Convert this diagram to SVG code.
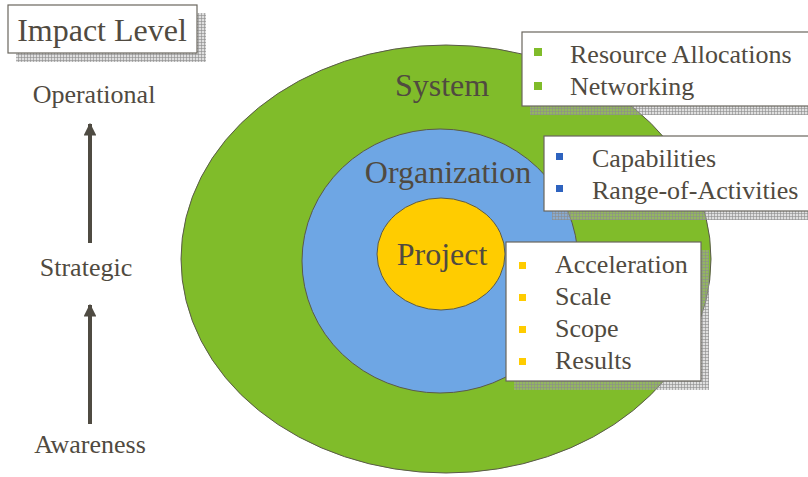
<svg xmlns="http://www.w3.org/2000/svg" width="808" height="477" viewBox="0 0 808 477">
<defs>
<pattern id="grid" width="3" height="3" patternUnits="userSpaceOnUse">
<rect width="3" height="3" fill="#b0b0b0" fill-opacity="0.4"/>
<path d="M0 0.5H3M0.5 0V3" stroke="#8c8c8c" stroke-width="1" stroke-opacity="0.6"/>
</pattern>
<marker id="arr" viewBox="0 0 10 10" refX="9" refY="5" markerWidth="3.2" markerHeight="3.2" orient="auto" markerUnits="strokeWidth">
<path d="M0 0L10 5L0 10Z" fill="#4f4b42"/>
</marker>
</defs>
<style>
.box{fill:#fff;stroke:#6a665e;stroke-width:1.2}
.shadow{fill:url(#grid)}
.ell{stroke:#5a5a4a;stroke-width:1}
</style>
<g id="circles">
<ellipse class="ell" cx="446" cy="259" rx="265" ry="214" fill="#80bc2a"/>
<ellipse class="ell" cx="440" cy="261" rx="138" ry="132" fill="#6ea6e4"/>
<ellipse class="ell" cx="441" cy="254" rx="64" ry="56" fill="#ffcc00"/>
</g>
<g id="circle-labels" font-family="Times New Roman" font-size="32" text-anchor="middle" fill="#504a40">
<text x="442" y="96">System</text>
<text x="448" y="183">Organization</text>
<text x="442" y="265">Project</text>
</g>
<g id="impact-level">
<rect class="shadow" x="16" y="13" width="190" height="49"/>
<rect class="box" x="8" y="5" width="189" height="48"/>
<text font-family="Times New Roman" fill="#504a40" font-size="32" x="102" y="41" text-anchor="middle">Impact Level</text>
</g>
<g id="levels" font-family="Times New Roman" font-size="26" text-anchor="middle" fill="#504a40">
<text x="94" y="103">Operational</text>
<text x="86" y="276">Strategic</text>
<text x="90" y="453">Awareness</text>
</g>
<g id="connectors" stroke="#4f4b42" stroke-width="4" fill="none">
<line x1="90" y1="243" x2="90" y2="124" marker-end="url(#arr)"/>
<line x1="90" y1="424" x2="90" y2="305" marker-end="url(#arr)"/>
</g>
<g id="system-box" font-family="Times New Roman" font-size="26" fill="#504a40">
<rect class="shadow" x="530" y="40" width="278" height="75"/>
<rect class="box" x="522" y="32" width="290" height="74"/>
<rect x="534" y="48" width="8" height="8" fill="#80bc2a"/>
<rect x="534" y="82" width="8" height="8" fill="#80bc2a"/>
<text x="570" y="63">Resource Allocations</text>
<text x="570" y="95">Networking</text>
</g>
<g id="organization-box" font-family="Times New Roman" font-size="26" fill="#504a40">
<rect class="shadow" x="552" y="144" width="256" height="76"/>
<rect class="box" x="544" y="136" width="270" height="75"/>
<rect x="556" y="153" width="7" height="7" fill="#2e63bf"/>
<rect x="556" y="185" width="7" height="7" fill="#2e63bf"/>
<text x="592" y="167">Capabilities</text>
<text x="592" y="199">Range-of-Activities</text>
</g>
<g id="project-box" font-family="Times New Roman" font-size="26" fill="#504a40">
<rect class="shadow" x="514" y="250" width="195" height="140"/>
<rect class="box" x="506" y="242" width="195" height="139"/>
<rect x="519" y="262" width="7" height="7" fill="#ffcc00"/>
<rect x="519" y="294" width="7" height="7" fill="#ffcc00"/>
<rect x="519" y="326" width="7" height="7" fill="#ffcc00"/>
<rect x="519" y="358" width="7" height="7" fill="#ffcc00"/>
<text x="555" y="273">Acceleration</text>
<text x="555" y="305">Scale</text>
<text x="555" y="337">Scope</text>
<text x="555" y="369">Results</text>
</g>
</svg>
